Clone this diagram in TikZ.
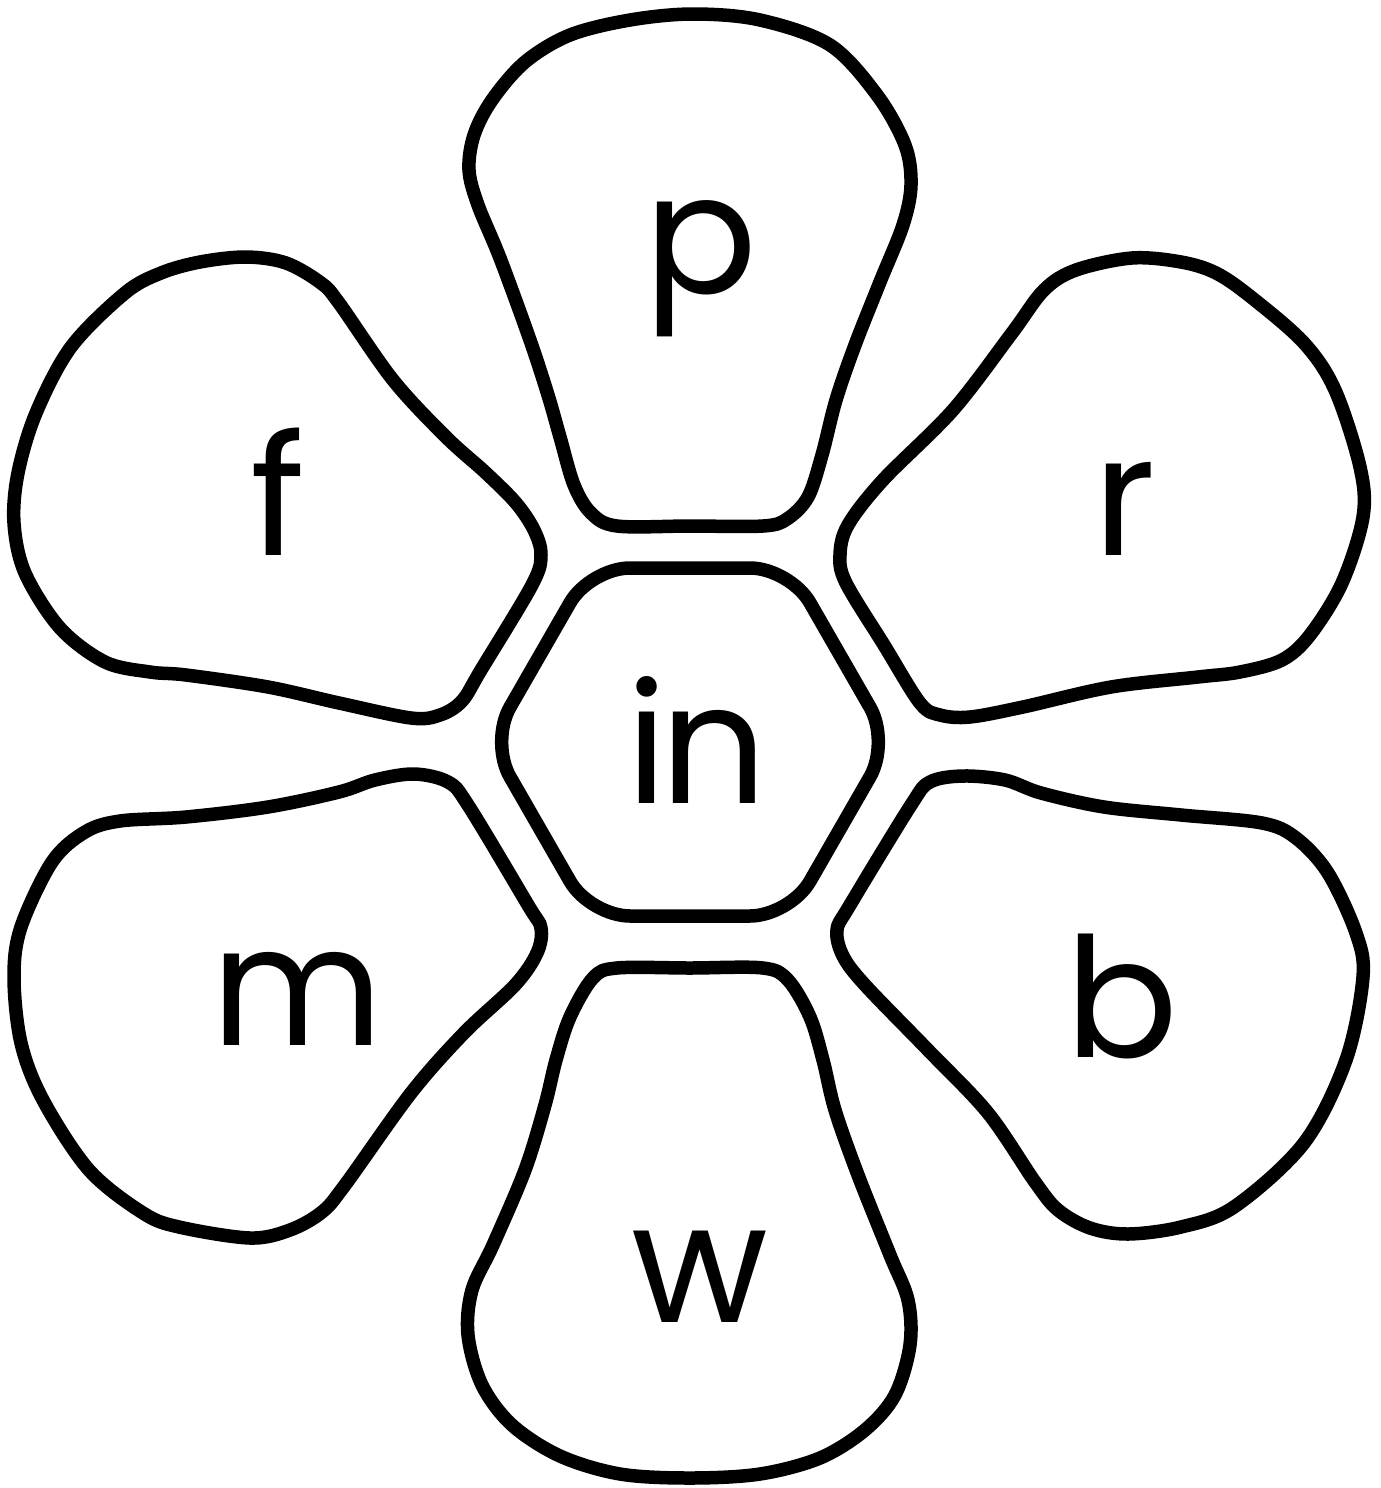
\documentclass[tikz,border=0pt]{standalone}
\usepackage{fontspec}
\setmainfont{Poppins}
\begin{document}
\begin{tikzpicture}[x=0.02cm,y=-0.02cm,
  petal/.style={draw=black,line width=0.27cm,line join=round,fill=white},
  letter/.style={font=\fontsize{95}{95}\selectfont,inner sep=0pt,anchor=base}]
\useasboundingbox (0,0) rectangle (1380,1488);
\fill[white] (0,0) rectangle (1380,1488);
% top petal p
\draw[petal] plot[smooth cycle,tension=0.55] coordinates {(690,526) (617,526) (591,513) (574,485) (560,437) (548,395) (530,340) (500,258) (478,205) (469,170) (474,135) (492,100) (525,62) (570,35) (630,20) (693,14) (760,20) (830,45) (877,95) (905,145) (911,185) (903,225) (880,282) (855,345) (836,400) (822,455) (808,497) (787,519) (763,526)};
% bottom petal w
\draw[petal] plot[smooth cycle,tension=0.55] coordinates {(690,968) (763,968) (788,980) (810,1017) (823,1060) (835,1110) (858,1175) (890,1255) (908,1300) (910,1345) (895,1395) (865,1430) (820,1458) (760,1474) (690,1478) (620,1474) (560,1456) (512,1425) (482,1385) (468,1335) (472,1290) (493,1245) (525,1170) (545,1105) (556,1060) (570,1017) (593,978) (617,968)};
% upper-left petal f
\draw[petal] plot[smooth cycle,tension=0.55] coordinates {(246,257) (286,263) (321,283) (339,303) (393,380) (446,437) (486,473) (516,503) (534,530) (541,555) (532,585) (481,670) (462,701) (440,715) (411,718) (339,703) (268,687) (186,675) (150,672) (105,662) (60,628) (25,573) (14,523) (18,473) (36,413) (71,347) (125,293) (161,273) (200,262)};
% upper-right petal r
\draw[petal] plot[smooth cycle,tension=0.55] coordinates {(1132,258) (1181,262) (1216,273) (1251,297) (1304,343) (1335,390) (1360,467) (1363,517) (1342,583) (1310,635) (1282,660) (1240,672) (1198,677) (1111,687) (1023,707) (970,717) (940,715) (920,703) (884,645) (846,583) (840,555) (848,525) (883,480) (953,410) (1012,333) (1044,290) (1076,270)};
% lower-left petal m
\draw[petal] plot[smooth cycle,tension=0.55] coordinates {(414,774) (448,782) (468,805) (528,905) (541,928) (537,953) (515,985) (464,1033) (411,1093) (345,1185) (322,1212) (290,1230) (250,1238) (179,1227) (143,1213) (89,1170) (43,1100) (21,1043) (14,977) (21,927) (52,862) (85,832) (120,821) (186,817) (268,807) (339,792) (375,780)};
% lower-right petal b
\draw[petal] plot[smooth cycle,tension=0.55] coordinates {(963,776) (930,782) (911,805) (850,905) (837,930) (843,956) (865,985) (928,1050) (988,1113) (1035,1182) (1058,1210) (1090,1228) (1128,1234) (1181,1227) (1234,1207) (1304,1143) (1346,1060) (1363,977) (1356,933) (1328,873) (1296,838) (1262,823) (1181,815) (1104,807) (1041,793) (1005,780)};
% centre hexagon
\draw[petal,rounded corners=0.8cm] (690,568) -- (790,568) -- (890,742) -- (790,916) -- (590,916) -- (490,742) -- (590,568) -- cycle;
% letters
\node[letter] (p) at (701,293) {p};
\node[letter] (f) at (278,555) {f};
\node[letter] (r) at (1125,555) {r};
\node[letter] (in) at (697,803) {i\kern-0.04em n};
\node[letter] (m) at (297,1045) {m};
\node[letter] (b) at (1122,1057) {b};
\node[letter] (w) at (700,1322) {w};
\end{tikzpicture}
\end{document}
